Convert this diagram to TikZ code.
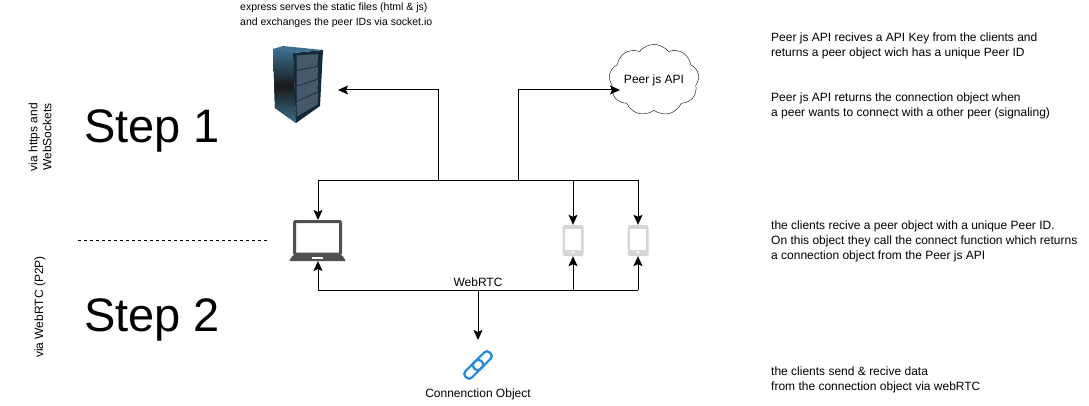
\documentclass[tikz,border=0pt]{standalone}
\usepackage{fontspec}
\setmainfont{Liberation Sans}
\usetikzlibrary{arrows.meta,shapes.symbols}
\tikzset{
    note/.style={align=left,anchor=west,inner sep=0pt,font=\fontsize{12}{15}\selectfont},
    steptext/.style={anchor=west,inner sep=0pt,font=\fontsize{47}{50}\selectfont},
    vialabel/.style={rotate=90,align=center,inner sep=0pt,font=\fontsize{12}{14}\selectfont},
    conn/.style={-{Stealth[length=10pt,width=9pt,inset=2pt]},line width=1pt},
    bus/.style={line width=1pt},
    device/.style={minimum width=21pt,minimum height=31pt,inner sep=0pt},
    plain/.style={inner sep=0pt,font=\fontsize{12}{14}\selectfont}
}
\definecolor{laptopgrey}{HTML}{505050}
\definecolor{phonegrey}{HTML}{D6D6D6}
\definecolor{linkblue}{HTML}{1E88E5}
\definecolor{rackdark}{HTML}{14293A}
\definecolor{racklight}{HTML}{3A6F8F}
\definecolor{rackpanel}{HTML}{46596A}
\begin{document}
\begin{tikzpicture}[x=1pt,y=-1pt]
    \useasboundingbox (0,0) rectangle (1089,406);
    % server
    \node[minimum width=50pt,minimum height=79pt,inner sep=0pt] (server) at (298,85) {};
    \fill[top color=racklight,bottom color=racklight,middle color=black!90] (273,49) -- (293,53) -- (296,123) -- (275,108) -- cycle;
    \fill[rackdark] (293,53) -- (323,50) -- (320,106) -- (296,123) -- cycle;
    \fill[racklight] (273,49) -- (283,46) -- (323,50) -- (293,53) -- cycle;
    \foreach \i in {0,1,2,3}
        \fill[rackpanel] (296.5,{55.5+\i*15.5}) -- (318,{54+\i*12.8}) -- (317.5,{66+\i*12.8}) -- (297,{70+\i*15.5}) -- cycle;
    % cloud
    \node[cloud,draw,cloud puffs=9,cloud puff arc=105,aspect=1.4,minimum width=85pt,minimum height=64pt,inner sep=0pt,font=\fontsize{12}{14}\selectfont] (api) at (654,80) {Peer js API};
    % laptop
    \node[device,minimum width=57pt,minimum height=41pt] (laptop) at (318,240) {};
    \draw[laptopgrey,line width=3pt,rounded corners=1pt] (294.5,221.5) rectangle (340.5,254);
    \fill[laptopgrey,rounded corners=1pt] (289,261) -- (293,255) -- (342,255) -- (346,261) -- cycle;
    \fill[white] (312,256.5) rectangle (323,258.5);
    % phones
    \foreach \n/\x in {phonea/573,phoneb/638} {
        \node[device] (\n) at (\x,240.5) {};
        \fill[phonegrey,rounded corners=1.5pt] (\x-10.5,225) rectangle (\x+10.5,256);
        \fill[white] (\x-8,229) rectangle (\x+8,249.5);
        \fill[white] (\x,252.5) circle (1.5);
    }
    % link icon
    \node[minimum width=30pt,minimum height=30pt,inner sep=0pt] (link) at (478,365) {};
    \draw[linkblue,line width=2.2pt,rounded corners=3.5pt,rotate around={45:(478,365)}] (473,360.5) rectangle (495,369.5);
    \draw[linkblue,line width=2.2pt,rounded corners=3.5pt,rotate around={45:(478,365)}] (461,360.5) rectangle (483,369.5);
    \node[plain] (linktext) at (478,394.5) {Connenction Object};
    % texts
    \node[note,font=\fontsize{10.5}{15}\selectfont] (expresstext) at (240,15) {express serves the static files (html \& js)\\and exchanges the peer IDs via socket.io};
    \node[note] (apitext) at (771,46) {Peer js API recives a API Key from the clients and\\returns a peer object wich has a unique Peer ID};
    \node[note] (signaltext) at (771,106) {Peer js API returns the connection object when\\a peer wants to connect with a other peer (signaling)};
    \node[note] (clienttext) at (771,241) {the clients recive a peer object with a unique Peer ID.\\On this object they call the connect function which returns\\a connection object from the Peer js API};
    \node[note] (datatext) at (771,380) {the clients send \& recive data\\from the connection object via webRTC};
    \node[steptext] (stepone) at (84,131) {Step 1};
    \node[steptext] (steptwo) at (84,320) {Step 2};
    \node[vialabel] (viaone) at (40,137) {via https and\\WebSockets};
    \node[vialabel] (viatwo) at (40,307) {via WebRTC (P2P)};
    \coordinate (sepa) at (78,240);
    \coordinate (sepb) at (268,240);
    \draw[dashed] (sepa) -- (sepb);
    % upper bus
    \coordinate (busl) at (318,180.5);
    \coordinate (busa) at (438,180.5);
    \coordinate (busb) at (518,180.5);
    \coordinate (busc) at (573,180.5);
    \coordinate (busd) at (638,180.5);
    \draw[bus] (busl) -- (busd);
    \draw[conn] (busa) |- (338,90);
    \draw[conn] (busb) |- (620,90);
    \draw[conn] (busl) -- (318,220);
    \draw[conn] (busc) -- (phonea.north);
    \draw[conn] (busd) -- (phoneb.north);
    % lower bus
    \coordinate (lowl) at (318,290);
    \coordinate (lowm) at (478,290);
    \coordinate (lowc) at (573,290);
    \coordinate (lowd) at (638,290);
    \draw[bus] (lowl) -- (lowd);
    \node[plain] (webrtc) at (478,282) {WebRTC};
    \draw[conn] (lowl) -- (318,261);
    \draw[conn] (lowc) -- (phonea.south);
    \draw[conn] (lowd) -- (phoneb.south);
    \draw[conn] (lowm) -- (478,340);
\end{tikzpicture}
\end{document}
